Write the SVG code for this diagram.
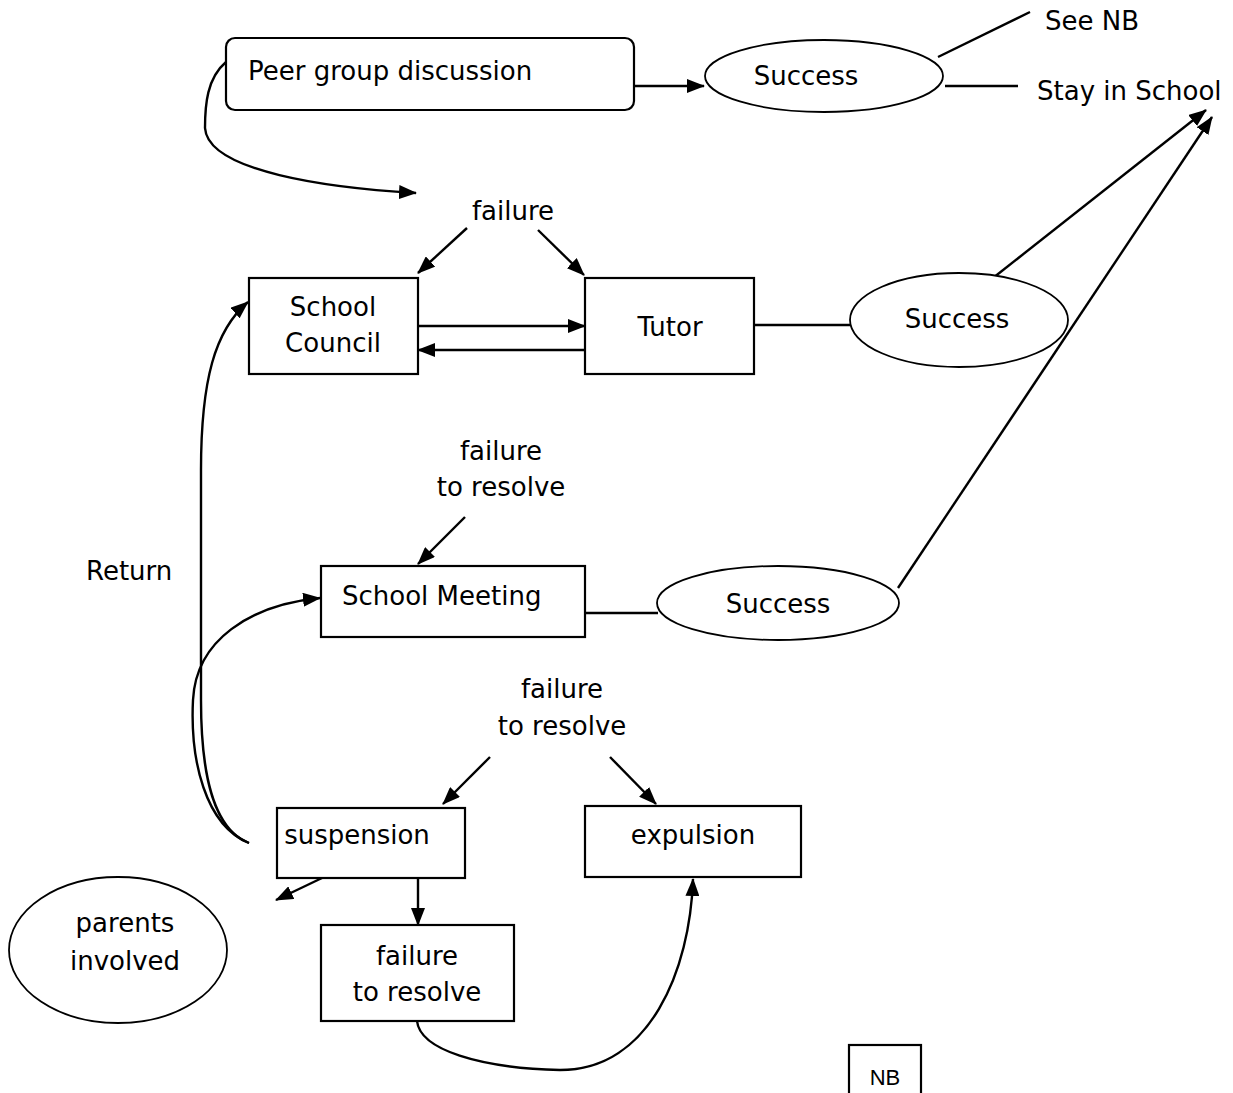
<svg xmlns="http://www.w3.org/2000/svg" width="1233" height="1093" viewBox="0 0 1233 1093">
<style>
text{font-family:"DejaVu Sans",sans-serif;font-size:26px;fill:#000}
.c{text-anchor:middle}
.box{fill:#fff;stroke:#000;stroke-width:2.2}
.ell{fill:#fff;stroke:#000;stroke-width:1.8}
.ln{fill:none;stroke:#000;stroke-width:2.4}
.ar{fill:none;stroke:#000;stroke-width:2.4;marker-end:url(#ah)}
text.nb{font-family:"Liberation Sans",Arial,sans-serif;font-size:22px}
</style>
<defs>
<marker id="ah" markerUnits="userSpaceOnUse" markerWidth="18" markerHeight="14" refX="17" refY="7" orient="auto">
<path d="M0,0 L18,7 L0,14 Z" fill="#000"/>
</marker>
</defs>
<rect width="1233" height="1093" fill="#fff"/>
<g id="connectors">
<line class="ar" x1="634" y1="86" x2="704" y2="86"/>
<line class="ln" x1="938" y1="57" x2="1030" y2="12"/>
<line class="ln" x1="945" y1="86" x2="1018" y2="86"/>
<path class="ar" d="M226,62 C207,78 205,105 205,128 C208,172 330,188 416,193"/>
<line class="ar" x1="467" y1="228" x2="418" y2="273"/>
<line class="ar" x1="538" y1="230" x2="584" y2="275"/>
<line class="ar" x1="418" y1="326" x2="585" y2="326"/>
<line class="ar" x1="585" y1="350" x2="418" y2="350"/>
<line class="ln" x1="754" y1="325" x2="850" y2="325"/>
<line class="ar" x1="993" y1="278" x2="1206" y2="110"/>
<line class="ar" x1="898" y1="588" x2="1212" y2="117"/>
<line class="ar" x1="465" y1="517" x2="418" y2="564"/>
<line class="ln" x1="585" y1="613" x2="658" y2="613"/>
<path class="ar" d="M249,843 C215,830 201,780 201,700 L201,470 C201,380 215,330 248,302"/>
<path class="ar" d="M249,843 C205,825 190,760 193,700 C196,640 250,605 320,598"/>
<line class="ar" x1="490" y1="757" x2="443" y2="804"/>
<line class="ar" x1="610" y1="757" x2="656" y2="804"/>
<line class="ar" x1="322" y1="878" x2="276" y2="900"/>
<line class="ar" x1="418" y1="878" x2="418" y2="925"/>
<path class="ar" d="M417,1021 C420,1050 480,1068 560,1070 C650,1070 690,970 693,879"/>
</g>
<g id="peer"><rect class="box" x="226" y="38" width="408" height="72" rx="9"/><text x="248" y="80">Peer group discussion</text></g>
<g id="success1"><ellipse class="ell" cx="824" cy="76" rx="119" ry="36"/><text class="c" x="806" y="85">Success</text></g>
<g id="seenb"><text x="1045" y="30">See NB</text></g>
<g id="stay"><text x="1037" y="100">Stay in School</text></g>
<g id="failure1"><text class="c" x="513" y="220">failure</text></g>
<g id="council"><rect class="box" x="249" y="278" width="169" height="96"/><text class="c" x="333" y="316">School</text><text class="c" x="333" y="352">Council</text></g>
<g id="tutor"><rect class="box" x="585" y="278" width="169" height="96"/><text class="c" x="670" y="336">Tutor</text></g>
<g id="success2"><ellipse class="ell" cx="959" cy="320" rx="109" ry="47"/><text class="c" x="957" y="328">Success</text></g>
<g id="failure2"><text class="c" x="501" y="460">failure</text><text class="c" x="501" y="496">to resolve</text></g>
<g id="meeting"><rect class="box" x="321" y="566" width="264" height="71"/><text x="342" y="605">School Meeting</text></g>
<g id="success3"><ellipse class="ell" cx="778" cy="603" rx="121" ry="37"/><text class="c" x="778" y="613">Success</text></g>
<g id="return"><text x="86" y="580">Return</text></g>
<g id="failure3"><text class="c" x="562" y="698">failure</text><text class="c" x="562" y="735">to resolve</text></g>
<g id="suspension"><rect class="box" x="277" y="808" width="188" height="70"/><text class="c" x="357" y="844">suspension</text></g>
<g id="expulsion"><rect class="box" x="585" y="806" width="216" height="71"/><text class="c" x="693" y="844">expulsion</text></g>
<g id="failure4"><rect class="box" x="321" y="925" width="193" height="96"/><text class="c" x="417" y="965">failure</text><text class="c" x="417" y="1001">to resolve</text></g>
<g id="parents"><ellipse class="ell" cx="118" cy="950" rx="109" ry="73"/><text class="c" x="125" y="932">parents</text><text class="c" x="125" y="970">involved</text></g>
<g id="nbbox"><rect class="box" x="849" y="1045" width="72" height="60"/><text class="nb c" x="885" y="1085">NB</text></g>
</svg>
